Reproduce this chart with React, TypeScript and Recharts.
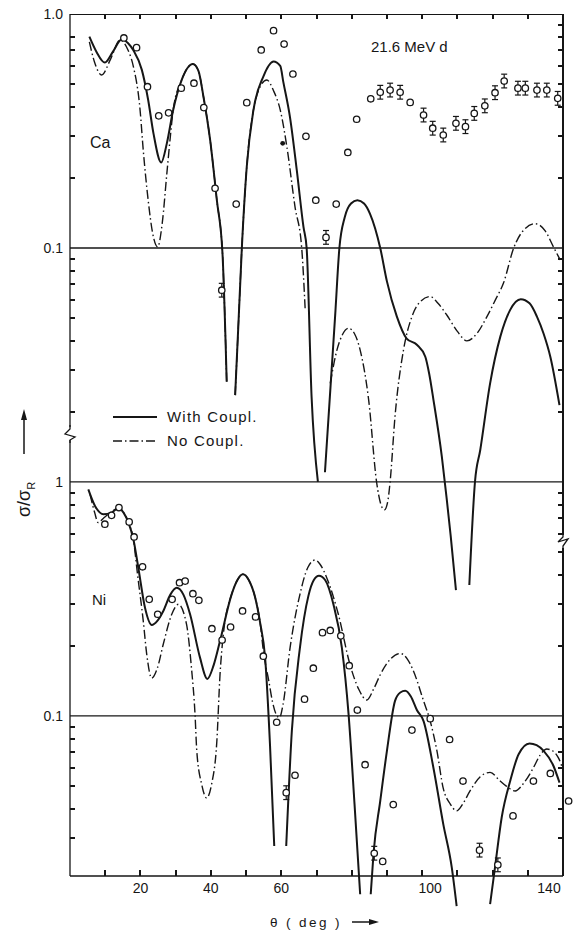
import { ComposedChart, Line, Scatter, XAxis, YAxis, ReferenceLine, ErrorBar, Legend } from "recharts";

type Pt = [number, number | null];
type Obs = [number, number];

// Ca, 21.6 MeV d: sigma/sigma_R vs angle. null = branch is cut off (deep minimum)
const CA_WITH: Pt[] = [
  [5.5, 0.8], [7.5, 0.69], [9.9, 0.62], [12.2, 0.69], [14.7, 0.78], [16.5, 0.75], [18, 0.7],
  [20.4, 0.577], [22.2, 0.429], [23.7, 0.309], [25.9, 0.232], [27.5, 0.28], [29.3, 0.389],
  [31.7, 0.522], [34.9, 0.611], [36.5, 0.57], [37.9, 0.443], [39.8, 0.289], [41.7, 0.16],
  [43.3, 0.095], [44.5, 0.0268], [45.7, null], [46.9, 0.0235], [47.9, 0.05], [48.8, 0.1],
  [50.2, 0.223], [52.1, 0.389], [54.9, 0.54], [57.8, 0.626], [59.7, 0.6], [60.6, 0.51],
  [62.5, 0.36], [64.4, 0.215], [66.3, 0.123], [67.2, 0.1], [68.6, 0.0232], [70.4, 0.01],
  [71.4, null], [72.4, 0.011], [74, 0.0258], [75.3, 0.0515], [76.5, 0.1], [78, 0.135],
  [79.8, 0.155], [81.6, 0.16], [83.5, 0.155], [85.2, 0.14], [88.1, 0.1], [90, 0.072],
  [92.8, 0.051], [95.6, 0.041], [98.5, 0.0386], [100.9, 0.0343], [102, 0.029], [103.2, 0.0225],
  [105.6, 0.0128], [107, 0.0084], [108.1, 0.0059], [109.6, 0.00345], [111.5, null],
  [113.4, 0.00363], [115, 0.01], [116.5, 0.0137], [119.3, 0.0264], [122.2, 0.0418],
  [125, 0.0544], [128, 0.0604], [130.5, 0.058], [132.6, 0.0509], [134.5, 0.043],
  [136.4, 0.0343], [139, 0.0213],
];

const CA_NO: Pt[] = [
  [5.5, 0.76], [7, 0.62], [9, 0.549], [11.5, 0.64], [14.2, 0.774], [16.5, 0.7], [18, 0.596],
  [19.9, 0.389], [20.8, 0.262], [22.2, 0.16], [23.5, 0.115], [24.9, 0.101], [26.2, 0.128],
  [27.5, 0.208], [28.5, 0.3], [29.3, 0.389], [31.7, 0.522], [34.9, 0.611], [36.5, 0.57],
  [37.9, 0.443], [39.8, 0.289], [41.7, 0.16], [43.3, 0.095], [44.5, 0.0268], [45.7, null],
  [46.9, 0.0235], [47.9, 0.05], [48.8, 0.1], [50.2, 0.223], [52.1, 0.389], [53.5, 0.47],
  [55.9, 0.522], [57.8, 0.47], [59.7, 0.389], [61.6, 0.27], [63.9, 0.15], [65.8, 0.1],
  [66.8, 0.054], [70, null], [73.9, 0.0264], [75.8, 0.0366], [77.5, 0.043], [79.1, 0.0454],
  [80.8, 0.043], [82.4, 0.0366], [84.8, 0.0225], [87.1, 0.0099], [88.3, 0.008], [89.3, 0.0076],
  [90.2, 0.0082], [90.9, 0.01], [92.3, 0.0191], [94.7, 0.0366], [97.1, 0.0509], [99.5, 0.059],
  [102.3, 0.062], [104.5, 0.058], [107, 0.0517], [110, 0.044], [112.7, 0.0401], [115.5, 0.043],
  [118.4, 0.0509], [120.8, 0.06], [123.1, 0.0708], [126, 0.1], [129, 0.12], [132.1, 0.127],
  [135, 0.118], [137.3, 0.101], [139.2, 0.089],
];

const CA_OBS: Obs[] = [
  [15.3, 0.79], [18.9, 0.718], [22, 0.489], [25.2, 0.367], [28, 0.378], [31.6, 0.482],
  [35.2, 0.506], [38, 0.398], [41.2, 0.18], [47.2, 0.154], [50.2, 0.418], [54.3, 0.702],
  [57.8, 0.849], [60.8, 0.744], [63.3, 0.554], [67, 0.3], [69.8, 0.16], [75.6, 0.154],
  [78.9, 0.256], [81.4, 0.355], [85.4, 0.434], [96.6, 0.419],
];

const CA_OBS_ERR: Obs[] = [
  [43.1, 0.066], [72.7, 0.111], [88.1, 0.463], [90.9, 0.473], [93.75, 0.463], [100.4, 0.37],
  [103, 0.325], [106, 0.304], [109.6, 0.341], [112.3, 0.33], [114.8, 0.376], [117.8, 0.405],
  [120.7, 0.461], [123.3, 0.517], [127.2, 0.482], [129.3, 0.482], [132.6, 0.473],
  [135.4, 0.473], [138.5, 0.436],
];

const CA_OBS_FILLED: Obs[] = [[60.4, 0.28]];

// Ni
const NI_WITH: Pt[] = [
  [5.2, 0.93], [7.1, 0.79], [9.5, 0.728], [11.8, 0.74], [13.7, 0.772], [15.2, 0.74],
  [16.6, 0.67], [18, 0.569], [19.4, 0.43], [21.3, 0.29], [23.2, 0.245], [24.8, 0.255],
  [26.5, 0.281], [28.5, 0.33], [30.3, 0.353], [32.2, 0.33], [34.1, 0.272], [36.9, 0.178],
  [39, 0.144], [40.8, 0.165], [42.6, 0.209], [45.9, 0.331], [47.5, 0.38], [49.1, 0.403],
  [50.8, 0.38], [52.6, 0.32], [54, 0.25], [55.4, 0.178], [56.8, 0.075], [58, 0.0278],
  [59.7, null], [61.4, 0.0278], [63, 0.0864], [65.3, 0.196], [67.7, 0.326], [69.2, 0.38],
  [70.7, 0.397], [72.5, 0.38], [74.8, 0.3], [77.2, 0.196], [79.1, 0.102], [80.8, 0.042],
  [82.4, 0.0173], [84, null], [85.4, 0.0173], [86.2, 0.0259], [88.1, 0.0433], [90, 0.0709],
  [92.3, 0.116], [93.8, 0.126], [95.2, 0.128], [96.8, 0.121], [98.5, 0.106], [100.4, 0.0951],
  [103.2, 0.0601], [106, 0.0345], [108.4, 0.0226], [109.8, 0.0154], [114, null],
  [119.3, 0.0157], [120.7, 0.0226], [122.6, 0.0369], [125, 0.0527], [127.4, 0.0686],
  [130.5, 0.0763], [132.5, 0.075], [134.5, 0.0709], [137.3, 0.0611], [139, 0.0519],
];

const NI_NO: Pt[] = [
  [5.7, 0.886], [7, 0.74], [8, 0.67], [9.5, 0.7], [11.5, 0.74], [13.7, 0.772], [15.2, 0.74],
  [16.6, 0.67], [18, 0.569], [19.2, 0.4], [20.8, 0.255], [21.8, 0.183], [23.2, 0.145],
  [24.8, 0.16], [26.5, 0.203], [28.9, 0.272], [30.8, 0.3], [33.1, 0.246], [34.5, 0.16],
  [35.5, 0.102], [36, 0.0709], [37.4, 0.051], [38.8, 0.0446], [40.2, 0.051], [41.7, 0.078],
  [42.6, 0.15], [43.5, 0.22], [45.9, 0.331], [47.5, 0.38], [49.1, 0.403], [50.8, 0.38],
  [52.6, 0.32], [54, 0.25], [54.9, 0.19], [56.5, 0.14], [57.5, 0.115], [58.5, 0.102],
  [59.5, 0.0984], [60.5, 0.112], [62.5, 0.196], [65.3, 0.331], [67.5, 0.43], [69.6, 0.464],
  [71, 0.445], [72.9, 0.39], [76.2, 0.272], [79.5, 0.166], [82, 0.13], [84.3, 0.117],
  [86.2, 0.13], [88.1, 0.15], [91, 0.175], [93.75, 0.185], [95.8, 0.175], [97.5, 0.156],
  [100.4, 0.116], [102.3, 0.095], [104.2, 0.0709], [106, 0.049], [108, 0.042], [109.8, 0.0393],
  [111.5, 0.042], [113.6, 0.0478], [116.5, 0.055], [119.3, 0.0574], [122, 0.053], [124, 0.05],
  [126.4, 0.0478], [129, 0.052], [131.6, 0.0601], [133.5, 0.068], [135.4, 0.0722],
  [137, 0.071], [138.7, 0.0662], [140, 0.059],
];

const NI_OBS: Obs[] = [
  [9.9, 0.66], [11.8, 0.72], [13.9, 0.777], [16.8, 0.675], [18.2, 0.582], [20.6, 0.434],
  [22.5, 0.315], [24.9, 0.272], [29, 0.315], [31.1, 0.371], [32.7, 0.377], [34.9, 0.333],
  [36.6, 0.312], [40.3, 0.236], [43.2, 0.211], [45.6, 0.24], [49, 0.281], [52.7, 0.265],
  [54.9, 0.18], [58.7, 0.094], [63.9, 0.0558], [66.6, 0.118], [69.1, 0.16], [71.7, 0.227],
  [73.9, 0.232], [76.9, 0.22], [79.3, 0.164], [81.6, 0.106], [83.8, 0.0619], [88.8, 0.0239],
  [91.8, 0.0418], [97.1, 0.087], [102.3, 0.0974], [107.8, 0.0793], [111.6, 0.0527],
  [125.8, 0.0374], [131.6, 0.0527], [136.4, 0.0568], [141.6, 0.0433],
];

const NI_OBS_ERR: Obs[] = [[61.4, 0.047], [86.4, 0.0259], [116.3, 0.0267], [121.5, 0.0231]];

// axis ticks
const DEG_TICKS = [10, 20, 30, 40, 50, 60, 70, 80, 90, 100, 110, 120, 130];
const DEG_LABELS: Record<number, [string, number]> = {
  20: ["20", 0], 40: ["40", 0], 60: ["60", 0], 100: ["100", 8], 140: ["140", -14],
};
const CA_MINOR = [0.8, 0.7, 0.6, 0.5, 0.4, 0.3, 0.2, 0.09, 0.08, 0.07, 0.06, 0.05, 0.04, 0.03, 0.02];
const NI_MINOR = [0.9, 0.8, 0.7, 0.6, 0.5, 0.4, 0.3, 0.2, 0.09, 0.08, 0.07, 0.06, 0.05, 0.04, 0.03];

// Ni is drawn two decades below Ca on one shared log axis
const NI_SHIFT = 0.01;
const X_DOMAIN: [number, number] = [0, 140];
const Y_DOMAIN: [number, number] = [0.0207 * NI_SHIFT, 1];
const DECADES: [number, string][] = [[1, "1.0"], [0.1, "0.1"], [NI_SHIFT, "1"], [0.1 * NI_SHIFT, "0.1"]];
const ERR_RATIO = 1.07;

const INK = "#161616";
const FONT = "'Liberation Sans', Arial, Helvetica, sans-serif";
const DASH_DOT = "9 3 1.5 3";
const PLOT = { left: 70, right: 563, top: 14, bottom: 876 };

// frame position of a tick value (frame decoration only; data goes through the chart scales)
const PX_PER_DEG = (PLOT.right - PLOT.left) / (X_DOMAIN[1] - X_DOMAIN[0]);
const PX_PER_DECADE = (PLOT.bottom - PLOT.top) / Math.log10(Y_DOMAIN[1] / Y_DOMAIN[0]);
const tickX = (d: number) => Math.round(PLOT.left + (d - X_DOMAIN[0]) * PX_PER_DEG);
const tickY = (v: number) => Math.round(PLOT.top + Math.log10(Y_DOMAIN[1] / v) * PX_PER_DECADE);

const LEFT_MINOR = [...CA_MINOR, ...NI_MINOR.map((v) => v * NI_SHIFT)];
const RIGHT_MINOR = [0.9, ...LEFT_MINOR];

const rows = (pts: Pt[], shift = 1) => pts.map(([x, v]) => ({ x, y: v == null ? null : v * shift }));
const points = (pts: Obs[], shift = 1) => pts.map(([x, v]) => ({ x, y: v * shift }));
const pointsErr = (pts: Obs[], shift = 1) =>
  pts.map(([x, v]) => {
    const y = v * shift;
    return { x, y, err: [y - y / ERR_RATIO, y * ERR_RATIO - y] };
  });

const decadeLabel = (v: number) => DECADES.find(([d]) => Math.abs(Math.log10(v / d)) < 1e-6);

const LeftTick = (p: any) => {
  const mark = decadeLabel(p.payload.value);
  return (
    <text x={63} y={p.y + 5} textAnchor="end" fontSize={14} fontFamily={FONT} fill={INK}>
      {mark ? mark[1] : ""}
    </text>
  );
};

const BottomTick = (p: any) => {
  const lab = DEG_LABELS[p.payload.value];
  return (
    <text x={p.x + lab[1]} y={893} textAnchor="middle" fontSize={14} fontFamily={FONT} fill={INK}>
      {lab[0]}
    </text>
  );
};

const OpenDot = (p: any) => <circle cx={p.cx} cy={p.cy} r={3.2} fill="#fff" stroke={INK} strokeWidth={1.3} />;
const FilledDot = (p: any) => <circle cx={p.cx} cy={p.cy} r={2.4} fill={INK} />;

const CURVES = [
  { name: "With Coupl.", dash: undefined, width: 2 },
  { name: "No Coupl.", dash: DASH_DOT, width: 1.4 },
];

const LegendBox = () => (
  <div style={{ fontFamily: FONT, fontSize: 15, color: INK }}>
    {CURVES.map((c) => (
      <div key={c.name} style={{ display: "flex", alignItems: "center", height: 24 }}>
        <svg width={44} height={24} style={{ marginLeft: 8, marginRight: 10 }}>
          <line x1={0} x2={44} y1={12} y2={12} stroke={INK} strokeWidth={c.width} strokeDasharray={c.dash} />
        </svg>
        <span style={{ letterSpacing: 1.2, lineHeight: "24px" }}>{c.name}</span>
      </div>
    ))}
  </div>
);

// small HTML bars for the top/right frame edges and the inward ticks
const bar = (left: number, top: number, width: number, height: number, key: string) => (
  <div key={key} style={{ position: "absolute", left, top, width, height, background: INK }} />
);

const FrameMarks = () => (
  <div style={{ position: "absolute", left: 0, top: 0, width: 575, height: 933, pointerEvents: "none" }}>
    {bar(PLOT.left, PLOT.top - 0.5, PLOT.right - PLOT.left + 0.5, 1.4, "top")}
    {bar(PLOT.right - 0.7, PLOT.top, 1.4, PLOT.bottom - PLOT.top, "right")}
    {LEFT_MINOR.map((v) => bar(PLOT.left, tickY(v) - 0.6, 5, 1.2, `l${v}`))}
    {RIGHT_MINOR.map((v) => bar(PLOT.right - 5, tickY(v) - 0.6, 5, 1.2, `r${v}`))}
    {DEG_TICKS.map((d) => bar(tickX(d) - 0.6, PLOT.bottom - 6, 1.2, 6, `b${d}`))}
    {DEG_TICKS.map((d) => bar(tickX(d) - 0.6, PLOT.top, 1.2, 5, `t${d}`))}
  </div>
);

export default function App() {
  const lineProps = { dataKey: "y", dot: false, isAnimationActive: false, stroke: INK, type: "monotone" as const };
  return (
    <div style={{ position: "absolute", left: 0, top: 0, width: 575, height: 933, background: "#fff", fontFamily: FONT }}>
      {/* curves and points run past the frame in a few places */}
      <style>{`.recharts-surface [clip-path] { clip-path: none !important; }`}</style>
      <ComposedChart width={575} height={933} margin={{ top: 14, right: 12, bottom: 0, left: 0 }}>
        <XAxis
          dataKey="x" type="number" domain={X_DOMAIN} allowDataOverflow ticks={Object.keys(DEG_LABELS).map(Number)}
          interval={0} height={57} tickLine={false} tick={BottomTick} axisLine={{ stroke: INK, strokeWidth: 1.3 }}
        />
        <YAxis
          dataKey="y" type="number" scale="log" domain={Y_DOMAIN} allowDataOverflow ticks={DECADES.map((d) => d[0])}
          interval={0} width={70} tickLine={false} tick={LeftTick} axisLine={{ stroke: INK, strokeWidth: 1.3 }}
        />

        {DECADES.slice(1).map(([d]) => (
          <ReferenceLine key={d} y={d} stroke={INK} strokeWidth={1.3} ifOverflow="visible" />
        ))}

        <Line {...lineProps} data={rows(CA_WITH)} strokeWidth={2} name="With Coupl." />
        <Line {...lineProps} data={rows(CA_NO)} strokeWidth={1.4} strokeDasharray={DASH_DOT} name="No Coupl." />
        <Line {...lineProps} data={rows(NI_WITH, NI_SHIFT)} strokeWidth={2} legendType="none" />
        <Line {...lineProps} data={rows(NI_NO, NI_SHIFT)} strokeWidth={1.4} strokeDasharray={DASH_DOT} legendType="none" />

        <Scatter data={pointsErr(CA_OBS_ERR)} dataKey="y" shape={OpenDot} isAnimationActive={false} legendType="none">
          <ErrorBar dataKey="err" direction="y" width={3} stroke={INK} strokeWidth={1.2} />
        </Scatter>
        <Scatter data={points(CA_OBS)} dataKey="y" shape={OpenDot} isAnimationActive={false} legendType="none" />
        <Scatter data={points(CA_OBS_FILLED)} dataKey="y" shape={FilledDot} isAnimationActive={false} legendType="none" />
        <Scatter data={pointsErr(NI_OBS_ERR, NI_SHIFT)} dataKey="y" shape={OpenDot} isAnimationActive={false} legendType="none">
          <ErrorBar dataKey="err" direction="y" width={3} stroke={INK} strokeWidth={1.2} />
        </Scatter>
        <Scatter data={points(NI_OBS, NI_SHIFT)} dataKey="y" shape={OpenDot} isAnimationActive={false} legendType="none" />

        <Legend
          layout="vertical" align="center" verticalAlign="middle"
          wrapperStyle={{ left: 105, top: 405, width: 220 }}
          content={() => <LegendBox />}
        />
      </ComposedChart>

      <FrameMarks />

      <svg width={575} height={933} style={{ position: "absolute", left: 0, top: 0, pointerEvents: "none" }} fontFamily={FONT} fill={INK}>
        <text x={371} y={52} fontSize={15}>21.6 MeV d</text>
        <text x={90} y={148} fontSize={16}>Ca</text>
        <text x={92} y={605} fontSize={15}>Ni</text>

        {/* axis breaks */}
        <rect x={66} y={427} width={8} height={13} fill="#fff" />
        <path d="M70,425 L70,429 L65,434 L75,437 L70,440 L70,443" fill="none" stroke={INK} strokeWidth={1.3} />
        <rect x={559} y={535} width={8} height={13} fill="#fff" />
        <path d="M563,533 L563,537 L558,542 L568,539 L563,546 L563,549" fill="none" stroke={INK} strokeWidth={1.3} />

        {/* ordinate title */}
        <text transform="translate(30,517) rotate(-90)" fontSize={18}>
          σ/σ<tspan fontSize={11} dy={5}>R</tspan>
        </text>
        <line x1={24} x2={24} y1={454} y2={418} stroke={INK} strokeWidth={1.5} />
        <path d="M24,409 L21,420 L27,420 Z" fill={INK} />

        {/* abscissa title */}
        <text x={270} y={927} fontSize={13.5} letterSpacing={2.4}>θ ( deg )</text>
        <line x1={352} x2={372} y1={922} y2={922} stroke={INK} strokeWidth={1.5} />
        <path d="M379,922 L369,919 L369,925 Z" fill={INK} />
      </svg>
    </div>
  );
}
